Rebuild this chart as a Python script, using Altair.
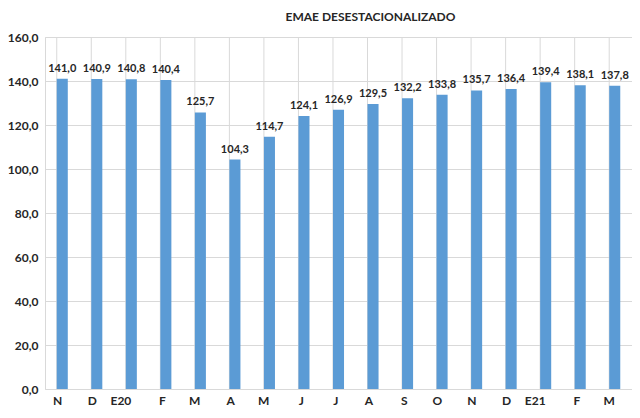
import altair as alt
import pandas as pd

months = ["N", "D", "E20", "F", "M", "A", "M", "J", "J", "A", "S", "O", "N", "D", "E21", "F", "M"]
values = [141.0, 140.9, 140.8, 140.4, 125.7, 104.3, 114.7, 124.1, 126.9, 129.5, 132.2, 133.8, 135.7, 136.4, 139.4, 138.1, 137.8]

df = pd.DataFrame({
    "idx": list(range(len(months))),
    "month": months,
    "value": values,
})
df["label"] = df["value"].map(lambda v: f"{v:.1f}".replace(".", ","))

FONT = "Lato"
GRID = "#d9d9d9"
label_expr = "split('" + ",".join(months) + "', ',')[datum.value]"

xenc = alt.X("idx:O", scale=alt.Scale(paddingInner=0.68, paddingOuter=0.34),
             axis=alt.Axis(title=None, labelExpr=label_expr, labelAngle=0, domain=False,
                           ticks=False, grid=False, labelPadding=11, labelFontSize=12,
                           labelFont=FONT, labelFontWeight="bold", labelColor="#262626"))
yscale = alt.Scale(domain=[0, 160])
yenc = alt.Y("value:Q", scale=yscale,
             axis=alt.Axis(title=None, values=list(range(0, 161, 20)), domain=False, ticks=False,
                           gridColor=GRID, labelPadding=7, labelFontSize=12, labelFont=FONT,
                           labelFontWeight="bold", labelColor="#262626",
                           labelExpr="replace(format(datum.value, '.1f'), '.', ',')"))

base = alt.Chart(df)

vgrid = base.mark_rule(color=GRID, strokeWidth=1).encode(
    x=alt.X("idx:O", bandPosition=0)
)

bars = base.mark_bar(color="#5B9BD5").encode(x=xenc, y=yenc)

texts = base.mark_text(dy=-10, font=FONT, fontSize=11, fontWeight="bold", color="#262626").encode(
    x=alt.X("idx:O"), y=alt.Y("value:Q"), text="label:N"
)

chart = alt.layer(vgrid, bars, texts).properties(
    width=587, height=352,
    autosize=alt.AutoSizeParams(type="none"),
    padding={"left": 37, "top": 29, "right": 0, "bottom": 21},
    title=alt.TitleParams("EMAE DESESTACIONALIZADO", font=FONT, fontSize=12, fontWeight="bold",
                          color="#262626", anchor="middle", dx=32, offset=7),
).configure_view(stroke=GRID, strokeWidth=1)

chart.save("out.html", embed_options={"renderer": "svg", "actions": False})
